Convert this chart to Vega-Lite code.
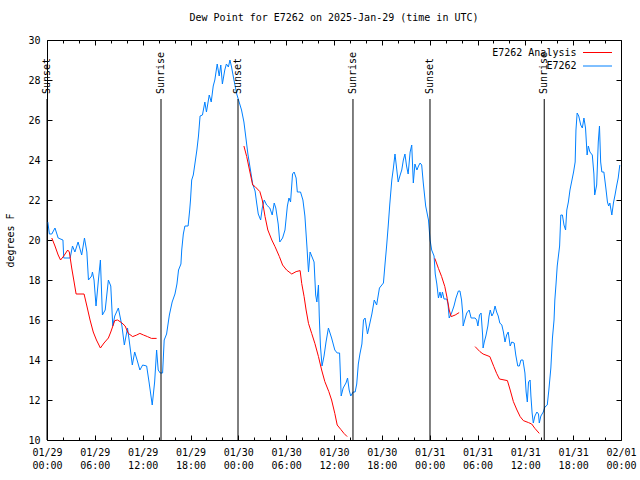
{
  "$schema": "https://vega.github.io/schema/vega-lite/v6.json",
  "width": 574,
  "height": 400,
  "autosize": "none",
  "padding": {"left": 47, "top": 40, "right": 19, "bottom": 40},
  "background": "white",
  "title": {"text": "Dew Point for E7262 on 2025-Jan-29 (time in UTC)", "font": "DejaVu Sans Mono", "fontSize": 10, "fontWeight": "normal", "offset": 12, "color": "black"},
  "config": {
    "view": {"stroke": "black", "strokeWidth": 1},
    "font": "DejaVu Sans Mono",
    "axis": {"labelFont": "DejaVu Sans Mono", "labelFontSize": 10, "labelColor": "black", "tickColor": "black", "tickWidth": 1, "domain": false, "grid": false, "titleFont": "DejaVu Sans Mono", "titleFontSize": 10, "titleFontWeight": "normal", "titleColor": "black"},
    "legend": {"orient": "top-right", "offset": 7, "padding": 0, "title": null, "symbolType": "M-2.9,0H2.9", "symbolSize": 100, "symbolStrokeWidth": 1, "labelAlign": "right", "labelOffset": -26.5, "labelFont": "DejaVu Sans Mono", "labelFontSize": 10, "labelColor": "black", "rowPadding": 2.5}
  },
  "datasets": {
    "obs": [
      {"hours":0.1,"dewpoint":20.9},{"hours":0.3,"dewpoint":20.3},{"hours":0.6,"dewpoint":20.3},{"hours":1.0,"dewpoint":20.6},{"hours":1.4,"dewpoint":20.1},{"hours":2.0,"dewpoint":20.0},{"hours":2.1,"dewpoint":19.1},{"hours":2.9,"dewpoint":19.1},{"hours":3.2,"dewpoint":19.7},{"hours":3.5,"dewpoint":19.4},{"hours":3.9,"dewpoint":19.9},{"hours":4.35,"dewpoint":19.25},{"hours":4.7,"dewpoint":20.1},{"hours":5.0,"dewpoint":19.4},{"hours":5.2,"dewpoint":18.0},{"hours":5.6,"dewpoint":18.2},{"hours":5.7,"dewpoint":18.4},{"hours":5.9,"dewpoint":18.0},{"hours":6.15,"dewpoint":16.7},{"hours":6.45,"dewpoint":18.0},{"hours":6.7,"dewpoint":19.0},{"hours":6.95,"dewpoint":16.25},{"hours":7.3,"dewpoint":16.5},{"hours":7.7,"dewpoint":18.0},{"hours":8.0,"dewpoint":17.7},{"hours":8.25,"dewpoint":15.7},{"hours":8.5,"dewpoint":16.2},{"hours":8.95,"dewpoint":16.6},{"hours":9.4,"dewpoint":15.7},{"hours":9.7,"dewpoint":14.75},{"hours":10.1,"dewpoint":15.6},{"hours":10.4,"dewpoint":14.7},{"hours":10.7,"dewpoint":13.75},{"hours":11.0,"dewpoint":14.4},{"hours":11.3,"dewpoint":14.0},{"hours":11.65,"dewpoint":13.5},{"hours":12.0,"dewpoint":13.75},{"hours":12.5,"dewpoint":13.7},{"hours":12.8,"dewpoint":12.9},{"hours":13.2,"dewpoint":11.75},{"hours":13.5,"dewpoint":12.9},{"hours":13.75,"dewpoint":14.5},{"hours":13.95,"dewpoint":13.5},{"hours":14.2,"dewpoint":13.35},{"hours":14.5,"dewpoint":13.35},{"hours":14.7,"dewpoint":15.0},{"hours":15.0,"dewpoint":15.3},{"hours":15.35,"dewpoint":16.25},{"hours":15.7,"dewpoint":16.9},{"hours":16.05,"dewpoint":17.3},{"hours":16.3,"dewpoint":17.8},{"hours":16.5,"dewpoint":18.5},{"hours":16.8,"dewpoint":18.8},{"hours":16.9,"dewpoint":19.5},{"hours":17.1,"dewpoint":20.3},{"hours":17.3,"dewpoint":20.7},{"hours":17.7,"dewpoint":20.7},{"hours":17.9,"dewpoint":21.5},{"hours":18.0,"dewpoint":22.0},{"hours":18.15,"dewpoint":23.0},{"hours":18.35,"dewpoint":23.25},{"hours":18.55,"dewpoint":23.8},{"hours":18.8,"dewpoint":24.5},{"hours":19.0,"dewpoint":25.2},{"hours":19.2,"dewpoint":26.2},{"hours":19.5,"dewpoint":26.25},{"hours":19.8,"dewpoint":26.9},{"hours":20.0,"dewpoint":26.4},{"hours":20.35,"dewpoint":27.25},{"hours":20.6,"dewpoint":26.9},{"hours":20.85,"dewpoint":27.7},{"hours":21.05,"dewpoint":28.0},{"hours":21.35,"dewpoint":28.8},{"hours":21.6,"dewpoint":28.2},{"hours":21.8,"dewpoint":28.75},{"hours":22.0,"dewpoint":27.8},{"hours":22.3,"dewpoint":28.5},{"hours":22.5,"dewpoint":28.8},{"hours":22.75,"dewpoint":28.65},{"hours":22.95,"dewpoint":29.0},{"hours":23.15,"dewpoint":28.65},{"hours":23.45,"dewpoint":28.0},{"hours":23.8,"dewpoint":27.3},{"hours":24.1,"dewpoint":26.9},{"hours":24.4,"dewpoint":26.5},{"hours":24.7,"dewpoint":25.9},{"hours":24.95,"dewpoint":25.1},{"hours":25.2,"dewpoint":24.3},{"hours":25.4,"dewpoint":23.8},{"hours":25.8,"dewpoint":22.8},{"hours":26.1,"dewpoint":22.45},{"hours":26.3,"dewpoint":21.85},{"hours":26.5,"dewpoint":21.3},{"hours":26.8,"dewpoint":21.0},{"hours":27.0,"dewpoint":21.6},{"hours":27.25,"dewpoint":22.0},{"hours":27.55,"dewpoint":21.75},{"hours":27.95,"dewpoint":21.6},{"hours":28.25,"dewpoint":21.25},{"hours":28.5,"dewpoint":21.85},{"hours":28.7,"dewpoint":21.6},{"hours":29.0,"dewpoint":20.8},{"hours":29.2,"dewpoint":19.9},{"hours":29.55,"dewpoint":20.1},{"hours":29.85,"dewpoint":20.5},{"hours":30.15,"dewpoint":21.7},{"hours":30.35,"dewpoint":22.1},{"hours":30.55,"dewpoint":21.9},{"hours":30.8,"dewpoint":23.3},{"hours":31.0,"dewpoint":23.4},{"hours":31.25,"dewpoint":23.1},{"hours":31.4,"dewpoint":22.4},{"hours":31.8,"dewpoint":22.4},{"hours":32.1,"dewpoint":22.0},{"hours":32.35,"dewpoint":21.2},{"hours":32.6,"dewpoint":19.7},{"hours":32.8,"dewpoint":18.4},{"hours":33.0,"dewpoint":19.4},{"hours":33.2,"dewpoint":19.2},{"hours":33.5,"dewpoint":18.9},{"hours":33.7,"dewpoint":17.25},{"hours":33.85,"dewpoint":16.9},{"hours":34.05,"dewpoint":17.75},{"hours":34.15,"dewpoint":16.2},{"hours":34.3,"dewpoint":14.7},{"hours":34.5,"dewpoint":13.7},{"hours":34.75,"dewpoint":14.2},{"hours":35.0,"dewpoint":14.9},{"hours":35.3,"dewpoint":15.6},{"hours":35.7,"dewpoint":15.1},{"hours":36.1,"dewpoint":14.5},{"hours":36.4,"dewpoint":14.35},{"hours":36.7,"dewpoint":14.35},{"hours":36.9,"dewpoint":12.2},{"hours":37.15,"dewpoint":12.6},{"hours":37.5,"dewpoint":12.85},{"hours":37.7,"dewpoint":13.1},{"hours":37.9,"dewpoint":12.5},{"hours":38.1,"dewpoint":12.2},{"hours":38.4,"dewpoint":12.4},{"hours":38.65,"dewpoint":12.4},{"hours":38.85,"dewpoint":12.8},{"hours":39.05,"dewpoint":13.8},{"hours":39.25,"dewpoint":14.3},{"hours":39.5,"dewpoint":14.8},{"hours":39.7,"dewpoint":16.0},{"hours":39.9,"dewpoint":16.1},{"hours":40.2,"dewpoint":15.3},{"hours":40.45,"dewpoint":15.75},{"hours":40.75,"dewpoint":16.3},{"hours":41.05,"dewpoint":17.0},{"hours":41.35,"dewpoint":16.75},{"hours":41.7,"dewpoint":17.6},{"hours":42.0,"dewpoint":17.75},{"hours":42.2,"dewpoint":17.85},{"hours":42.4,"dewpoint":18.8},{"hours":42.6,"dewpoint":19.7},{"hours":42.8,"dewpoint":20.7},{"hours":43.0,"dewpoint":21.8},{"hours":43.25,"dewpoint":23.0},{"hours":43.45,"dewpoint":23.6},{"hours":43.65,"dewpoint":24.3},{"hours":43.85,"dewpoint":23.6},{"hours":44.05,"dewpoint":22.9},{"hours":44.3,"dewpoint":23.25},{"hours":44.5,"dewpoint":23.5},{"hours":44.7,"dewpoint":24.0},{"hours":44.9,"dewpoint":24.3},{"hours":45.1,"dewpoint":23.7},{"hours":45.3,"dewpoint":23.3},{"hours":45.55,"dewpoint":24.4},{"hours":45.75,"dewpoint":24.75},{"hours":45.95,"dewpoint":22.85},{"hours":46.15,"dewpoint":23.8},{"hours":46.4,"dewpoint":23.5},{"hours":46.6,"dewpoint":23.7},{"hours":46.8,"dewpoint":23.85},{"hours":47.0,"dewpoint":23.75},{"hours":47.2,"dewpoint":22.85},{"hours":47.5,"dewpoint":21.7},{"hours":47.85,"dewpoint":21.0},{"hours":48.05,"dewpoint":20.0},{"hours":48.25,"dewpoint":19.5},{"hours":48.55,"dewpoint":19.2},{"hours":48.7,"dewpoint":18.3},{"hours":48.9,"dewpoint":17.8},{"hours":49.1,"dewpoint":17.1},{"hours":49.3,"dewpoint":17.4},{"hours":49.45,"dewpoint":17.1},{"hours":49.6,"dewpoint":17.4},{"hours":49.8,"dewpoint":17.05},{"hours":50.15,"dewpoint":17.05},{"hours":50.3,"dewpoint":16.8},{"hours":50.45,"dewpoint":16.1},{"hours":50.75,"dewpoint":16.35},{"hours":51.05,"dewpoint":16.7},{"hours":51.3,"dewpoint":17.1},{"hours":51.6,"dewpoint":17.45},{"hours":51.8,"dewpoint":17.45},{"hours":52.0,"dewpoint":17.0},{"hours":52.15,"dewpoint":16.3},{"hours":52.2,"dewpoint":15.7},{"hours":52.4,"dewpoint":16.0},{"hours":52.65,"dewpoint":16.35},{"hours":52.95,"dewpoint":16.5},{"hours":53.2,"dewpoint":16.1},{"hours":53.7,"dewpoint":16.1},{"hours":53.9,"dewpoint":16.0},{"hours":54.05,"dewpoint":15.7},{"hours":54.25,"dewpoint":16.25},{"hours":54.45,"dewpoint":16.35},{"hours":54.65,"dewpoint":15.2},{"hours":54.7,"dewpoint":14.6},{"hours":54.85,"dewpoint":14.9},{"hours":55.05,"dewpoint":15.2},{"hours":55.3,"dewpoint":15.7},{"hours":55.45,"dewpoint":16.2},{"hours":55.6,"dewpoint":16.5},{"hours":55.8,"dewpoint":16.2},{"hours":56.0,"dewpoint":16.35},{"hours":56.2,"dewpoint":16.7},{"hours":56.4,"dewpoint":16.4},{"hours":56.6,"dewpoint":16.2},{"hours":56.8,"dewpoint":15.85},{"hours":57.05,"dewpoint":15.75},{"hours":57.25,"dewpoint":15.4},{"hours":57.45,"dewpoint":14.9},{"hours":57.65,"dewpoint":15.25},{"hours":57.85,"dewpoint":15.4},{"hours":58.1,"dewpoint":14.7},{"hours":58.3,"dewpoint":14.9},{"hours":58.6,"dewpoint":14.85},{"hours":58.8,"dewpoint":14.25},{"hours":59.05,"dewpoint":13.7},{"hours":59.25,"dewpoint":13.7},{"hours":59.45,"dewpoint":14.0},{"hours":59.7,"dewpoint":14.0},{"hours":59.95,"dewpoint":13.35},{"hours":60.1,"dewpoint":12.4},{"hours":60.25,"dewpoint":11.9},{"hours":60.4,"dewpoint":12.9},{"hours":60.6,"dewpoint":13.0},{"hours":60.7,"dewpoint":12.2},{"hours":60.85,"dewpoint":11.35},{"hours":61.0,"dewpoint":10.85},{"hours":61.2,"dewpoint":11.2},{"hours":61.45,"dewpoint":11.4},{"hours":61.65,"dewpoint":11.3},{"hours":61.75,"dewpoint":10.85},{"hours":61.95,"dewpoint":11.2},{"hours":62.25,"dewpoint":11.4},{"hours":62.45,"dewpoint":11.65},{"hours":62.75,"dewpoint":11.75},{"hours":62.95,"dewpoint":12.5},{"hours":63.2,"dewpoint":13.6},{"hours":63.4,"dewpoint":15.1},{"hours":63.6,"dewpoint":16.0},{"hours":63.7,"dewpoint":17.0},{"hours":63.85,"dewpoint":17.8},{"hours":64.0,"dewpoint":18.7},{"hours":64.3,"dewpoint":19.7},{"hours":64.45,"dewpoint":21.25},{"hours":64.65,"dewpoint":21.25},{"hours":64.85,"dewpoint":20.75},{"hours":65.05,"dewpoint":20.5},{"hours":65.2,"dewpoint":21.5},{"hours":65.4,"dewpoint":21.9},{"hours":65.6,"dewpoint":22.5},{"hours":65.85,"dewpoint":23.0},{"hours":66.05,"dewpoint":23.4},{"hours":66.25,"dewpoint":23.9},{"hours":66.35,"dewpoint":25.5},{"hours":66.5,"dewpoint":26.35},{"hours":66.7,"dewpoint":26.2},{"hours":66.95,"dewpoint":25.75},{"hours":67.15,"dewpoint":25.6},{"hours":67.35,"dewpoint":26.1},{"hours":67.55,"dewpoint":25.6},{"hours":67.75,"dewpoint":24.25},{"hours":67.9,"dewpoint":24.7},{"hours":68.1,"dewpoint":24.4},{"hours":68.4,"dewpoint":24.25},{"hours":68.6,"dewpoint":23.3},{"hours":68.7,"dewpoint":22.25},{"hours":68.95,"dewpoint":22.75},{"hours":69.15,"dewpoint":24.9},{"hours":69.3,"dewpoint":25.7},{"hours":69.45,"dewpoint":23.9},{"hours":69.6,"dewpoint":23.4},{"hours":69.85,"dewpoint":23.4},{"hours":70.1,"dewpoint":22.6},{"hours":70.3,"dewpoint":21.9},{"hours":70.45,"dewpoint":21.7},{"hours":70.6,"dewpoint":21.85},{"hours":70.85,"dewpoint":21.25},{"hours":71.05,"dewpoint":21.85},{"hours":71.25,"dewpoint":22.25},{"hours":71.45,"dewpoint":22.7},{"hours":71.65,"dewpoint":23.1},{"hours":71.85,"dewpoint":23.75}
    ],
    "analysis": [
      {"segment":1,"hours":0.6,"dewpoint":20.1},{"segment":1,"hours":1.0,"dewpoint":19.7},{"segment":1,"hours":1.4,"dewpoint":19.25},{"segment":1,"hours":1.7,"dewpoint":19.0},{"segment":1,"hours":2.1,"dewpoint":19.2},{"segment":1,"hours":2.6,"dewpoint":19.5},{"segment":1,"hours":2.8,"dewpoint":19.4},{"segment":1,"hours":3.1,"dewpoint":18.6},{"segment":1,"hours":3.4,"dewpoint":17.9},{"segment":1,"hours":3.65,"dewpoint":17.3},{"segment":1,"hours":4.65,"dewpoint":17.3},{"segment":1,"hours":5.0,"dewpoint":16.7},{"segment":1,"hours":5.4,"dewpoint":16.0},{"segment":1,"hours":5.8,"dewpoint":15.4},{"segment":1,"hours":6.2,"dewpoint":15.0},{"segment":1,"hours":6.7,"dewpoint":14.6},{"segment":1,"hours":7.15,"dewpoint":14.85},{"segment":1,"hours":7.7,"dewpoint":15.1},{"segment":1,"hours":8.0,"dewpoint":15.4},{"segment":1,"hours":8.5,"dewpoint":15.97},{"segment":1,"hours":8.85,"dewpoint":16.0},{"segment":1,"hours":9.35,"dewpoint":15.87},{"segment":1,"hours":9.8,"dewpoint":15.7},{"segment":1,"hours":10.2,"dewpoint":15.33},{"segment":1,"hours":10.75,"dewpoint":15.17},{"segment":1,"hours":11.25,"dewpoint":15.25},{"segment":1,"hours":11.65,"dewpoint":15.33},{"segment":1,"hours":12.1,"dewpoint":15.25},{"segment":1,"hours":12.6,"dewpoint":15.17},{"segment":1,"hours":13.1,"dewpoint":15.08},{"segment":1,"hours":13.75,"dewpoint":15.08},
      {"segment":2,"hours":24.7,"dewpoint":24.7},{"segment":2,"hours":25.05,"dewpoint":24.17},{"segment":2,"hours":25.4,"dewpoint":23.5},{"segment":2,"hours":25.8,"dewpoint":22.75},{"segment":2,"hours":26.1,"dewpoint":22.67},{"segment":2,"hours":26.7,"dewpoint":22.42},{"segment":2,"hours":27.0,"dewpoint":22.0},{"segment":2,"hours":27.35,"dewpoint":21.17},{"segment":2,"hours":27.7,"dewpoint":20.5},{"segment":2,"hours":28.2,"dewpoint":20.0},{"segment":2,"hours":28.6,"dewpoint":19.67},{"segment":2,"hours":29.15,"dewpoint":19.17},{"segment":2,"hours":29.55,"dewpoint":18.75},{"segment":2,"hours":30.05,"dewpoint":18.5},{"segment":2,"hours":30.7,"dewpoint":18.3},{"segment":2,"hours":31.25,"dewpoint":18.42},{"segment":2,"hours":31.75,"dewpoint":18.47},{"segment":2,"hours":31.95,"dewpoint":17.83},{"segment":2,"hours":32.25,"dewpoint":17.17},{"segment":2,"hours":32.5,"dewpoint":16.5},{"segment":2,"hours":32.8,"dewpoint":15.83},{"segment":2,"hours":33.2,"dewpoint":15.33},{"segment":2,"hours":33.6,"dewpoint":14.83},{"segment":2,"hours":34.05,"dewpoint":14.17},{"segment":2,"hours":34.45,"dewpoint":13.5},{"segment":2,"hours":34.85,"dewpoint":12.92},{"segment":2,"hours":35.35,"dewpoint":12.42},{"segment":2,"hours":35.7,"dewpoint":12.0},{"segment":2,"hours":36.1,"dewpoint":11.33},{"segment":2,"hours":36.4,"dewpoint":10.75},{"segment":2,"hours":36.85,"dewpoint":10.53},{"segment":2,"hours":37.25,"dewpoint":10.33},{"segment":2,"hours":37.65,"dewpoint":10.17},
      {"segment":3,"hours":48.65,"dewpoint":19.08},{"segment":3,"hours":49.1,"dewpoint":18.58},{"segment":3,"hours":49.5,"dewpoint":18.17},{"segment":3,"hours":49.9,"dewpoint":17.67},{"segment":3,"hours":50.2,"dewpoint":17.08},{"segment":3,"hours":50.45,"dewpoint":16.5},{"segment":3,"hours":50.7,"dewpoint":16.17},{"segment":3,"hours":51.2,"dewpoint":16.25},{"segment":3,"hours":51.7,"dewpoint":16.37},
      {"segment":4,"hours":53.7,"dewpoint":14.67},{"segment":4,"hours":54.3,"dewpoint":14.42},{"segment":4,"hours":54.7,"dewpoint":14.3},{"segment":4,"hours":55.55,"dewpoint":14.17},{"segment":4,"hours":56.05,"dewpoint":13.67},{"segment":4,"hours":56.4,"dewpoint":13.33},{"segment":4,"hours":56.75,"dewpoint":13.05},{"segment":4,"hours":57.75,"dewpoint":12.97},{"segment":4,"hours":58.1,"dewpoint":12.5},{"segment":4,"hours":58.5,"dewpoint":11.92},{"segment":4,"hours":58.95,"dewpoint":11.5},{"segment":4,"hours":59.35,"dewpoint":11.17},{"segment":4,"hours":59.75,"dewpoint":10.97},{"segment":4,"hours":60.4,"dewpoint":10.87},{"segment":4,"hours":60.8,"dewpoint":10.8},{"segment":4,"hours":61.2,"dewpoint":10.58},{"segment":4,"hours":61.75,"dewpoint":10.33}
    ],
    "sun": [
      {"event":"Sunset","hours":0},{"event":"Sunrise","hours":14.3},{"event":"Sunset","hours":23.96},{"event":"Sunrise","hours":38.38},{"event":"Sunset","hours":48.04},{"event":"Sunrise","hours":62.37}
    ]
  },
  "layer": [
    {
      "data": {"name": "obs"},
      "mark": {"type": "line", "strokeWidth": 1},
      "encoding": {
        "x": {"field": "hours", "type": "quantitative", "scale": {"domain": [0, 72], "nice": false, "zero": false},
          "axis": {"orient": "bottom", "title": null, "values": [0,2,4,6,8,10,12,14,16,18,20,22,24,26,28,30,32,34,36,38,40,42,44,46,48,50,52,54,56,58,60,62,64,66,68,70,72],
            "tickSize": {"condition": {"test": "datum.value % 6 === 0", "value": -5}, "value": -3},
            "labelExpr": "datum.value % 6 === 0 ? [utcFormat(utc(2025,0,29) + datum.value*3600000, '%m/%d'), utcFormat(utc(2025,0,29) + datum.value*3600000, '%H:%M')] : ''",
            "labelPadding": 12, "labelOverlap": false, "labelFlush": false, "labelBound": false, "labelBaseline": "top", "labelLineHeight": 13}},
        "y": {"field": "dewpoint", "type": "quantitative", "scale": {"domain": [10, 30], "nice": false, "zero": false},
          "axis": {"orient": "left", "title": "degrees F", "values": [10,12,14,16,18,20,22,24,26,28,30], "tickSize": -5, "labelPadding": 12, "titlePadding": 12, "labelOverlap": false}},
        "color": {"datum": "E7262", "scale": {"domain": ["E7262 Analysis", "E7262"], "range": ["#ff0000", "#0080ff"]},
          "legend": {"encode": {"symbols": {"update": {"stroke": {"scale": "color", "field": "value"}, "fill": {"value": "transparent"}, "strokeWidth": {"value": 1}}}}}}
      }
    },
    {
      "data": {"name": "analysis"},
      "mark": {"type": "line", "strokeWidth": 1},
      "encoding": {
        "x": {"field": "hours", "type": "quantitative",
          "axis": {"orient": "top", "title": null, "labels": false, "values": [0,2,4,6,8,10,12,14,16,18,20,22,24,26,28,30,32,34,36,38,40,42,44,46,48,50,52,54,56,58,60,62,64,66,68,70,72],
            "tickSize": {"condition": {"test": "datum.value % 6 === 0", "value": -5}, "value": -3}}},
        "y": {"field": "dewpoint", "type": "quantitative",
          "axis": {"orient": "right", "title": null, "labels": false, "values": [10,12,14,16,18,20,22,24,26,28,30], "tickSize": -5}},
        "detail": {"field": "segment"},
        "color": {"datum": "E7262 Analysis"}
      }
    },
    {
      "data": {"name": "sun"},
      "mark": {"type": "rule", "color": "black", "strokeWidth": 1},
      "encoding": {
        "x": {"field": "hours", "type": "quantitative", "axis": null},
        "y": {"datum": 27.05, "axis": null},
        "y2": {"datum": 10}
      }
    },
    {
      "data": {"name": "sun"},
      "mark": {"type": "text", "angle": 270, "align": "left", "baseline": "middle", "fontSize": 10, "font": "DejaVu Sans Mono", "color": "black"},
      "encoding": {
        "x": {"field": "hours", "type": "quantitative", "axis": null},
        "y": {"datum": 27.3, "axis": null},
        "text": {"field": "event"}
      }
    }
  ],
  "resolve": {"axis": {"x": "independent", "y": "independent"}}
}
